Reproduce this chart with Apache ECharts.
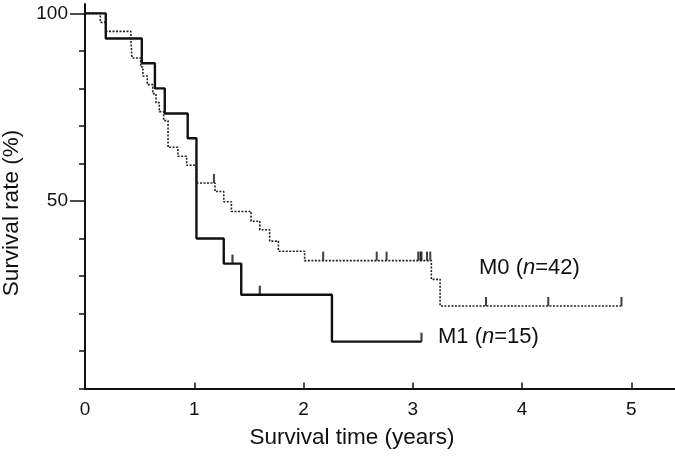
<!DOCTYPE html>
<html>
<head>
<meta charset="utf-8">
<script src="https://cdn.jsdelivr.net/npm/echarts@6/dist/echarts.min.js"></script>
<style>
  html, body { margin: 0; padding: 0; background: #fff; }
  #chart { width: 675px; height: 460px; }
</style>
</head>
<body>
<div id="chart"></div>
<script>
// ---- Data ----
// M0 (n=42): times (years) at which survival drops, and survival after the drop (%)
var m0Times = [0, 0.14, 0.19, 0.42, 0.43, 0.51, 0.53, 0.57, 0.62, 0.65, 0.68, 0.72, 0.76, 0.85, 0.93, 1.02, 1.19, 1.27, 1.34, 1.52, 1.60, 1.69, 1.77, 2.01, 3.17, 3.25, 4.91];
var m0Surv  = [100, 97.6, 95.2, 92.9, 88.1, 85.7, 83.3, 81.0, 78.6, 76.2, 73.8, 71.4, 64.3, 61.9, 59.5, 54.8, 52.5, 49.8, 47.2, 44.6, 42.3, 39.3, 36.6, 34.1, 29.1, 22.0, 22.0];
var m0CensorTimes = [1.18, 2.18, 2.67, 2.76, 3.05, 3.07, 3.08, 3.13, 3.16, 3.67, 4.24, 4.91];
var m0CensorSurv  = [54.8, 34.1, 34.1, 34.1, 34.1, 34.1, 34.1, 34.1, 34.1, 22.0, 22.0, 22.0];

// M1 (n=15)
var m1Times = [0, 0.19, 0.52, 0.64, 0.73, 0.94, 1.02, 1.27, 1.43, 2.26, 3.08];
var m1Surv  = [100, 93.3, 86.7, 80.0, 73.3, 66.7, 40.0, 33.3, 25.0, 12.5, 12.5];
var m1CensorTimes = [1.35, 1.60, 3.08];
var m1CensorSurv  = [33.3, 25.0, 12.5];

// Axis ticks / labels
var xTickLabels = [0, 1, 2, 3, 4, 5];
var xTicks = [1, 2, 3, 4, 5];
var yMajorTicks = [50, 100];

var xAxisTitle = 'Survival time (years)';
var yAxisTitle = 'Survival rate (%)';
var groupNames = ['M0', 'M1'];
var groupN = [42, 15];

function zip(a, b) { return a.map(function (v, i) { return [v, b[i]]; }); }

var FONT = '"Liberation Sans", Arial, Helvetica, sans-serif';
var chart = echarts.init(document.getElementById('chart'), null, { renderer: 'canvas' });

// y: 0% at 388.5px, 3.752 px per %; main grid goes to 102.5%, tick grid to 100%
var option = {
  animation: false,
  backgroundColor: '#ffffff',
  grid: [
    { left: 85, right: 0, top: 4, bottom: 71.5, containLabel: false },
    { left: 85, right: 0, top: 13.3, bottom: 71.5, containLabel: false }
  ],
  xAxis: [{
    gridIndex: 0, type: 'value', min: 0, max: 5.4,
    axisLine: { show: true, lineStyle: { color: '#111', width: 2 } },
    axisTick: { show: true, inside: true, length: 6, customValues: xTicks, lineStyle: { color: '#111', width: 1.5 } },
    axisLabel: { show: true, customValues: xTickLabels, margin: 12, fontSize: 19, color: '#111', fontFamily: FONT },
    splitLine: { show: false }
  }, {
    gridIndex: 1, type: 'value', min: 0, max: 5.4, show: false
  }],
  yAxis: [{
    gridIndex: 0, type: 'value', min: 0, max: 102.5, position: 'left',
    axisLine: { show: true, lineStyle: { color: '#111', width: 2 } },
    axisTick: { show: true, inside: false, length: 15, customValues: yMajorTicks, lineStyle: { color: '#111', width: 1.5 } },
    axisLabel: { show: true, customValues: yMajorTicks, margin: 17, fontSize: 19, color: '#111', fontFamily: FONT },
    splitLine: { show: false }
  }, {
    gridIndex: 1, type: 'value', min: 0, max: 100, interval: 10, position: 'left',
    axisLine: { show: true, lineStyle: { color: '#111', width: 2 } },
    axisTick: { show: true, inside: false, length: 6, lineStyle: { color: '#111', width: 1.5 } },
    axisLabel: { show: false },
    splitLine: { show: false }
  }],
  graphic: [
    { type: 'text', x: 352, y: 438, style: { text: xAxisTitle, font: '22.5px ' + FONT, fill: '#111', align: 'center', verticalAlign: 'middle' } },
    { type: 'text', x: 12, y: 213, rotation: Math.PI / 2, style: { text: yAxisTitle, font: '22.5px ' + FONT, fill: '#111', align: 'center', verticalAlign: 'middle' } },
    { type: 'text', x: 479, y: 268, style: { rich: { a: { font: '22px ' + FONT, fill: '#111' }, i: { font: 'italic 22px ' + FONT, fill: '#111' } }, text: '{a|' + groupNames[0] + ' (}{i|n}{a|=' + groupN[0] + ')}', verticalAlign: 'middle' } },
    { type: 'text', x: 438, y: 337, style: { rich: { a: { font: '22px ' + FONT, fill: '#111' }, i: { font: 'italic 22px ' + FONT, fill: '#111' } }, text: '{a|' + groupNames[1] + ' (}{i|n}{a|=' + groupN[1] + ')}', verticalAlign: 'middle' } }
  ],
  series: [
    {
      name: groupNames[0], type: 'line', step: 'end', showSymbol: false, z: 2,
      data: zip(m0Times, m0Surv),
      lineStyle: { color: '#222', width: 1.6, type: [2, 1.5] }
    },
    {
      name: groupNames[0] + ' censored', type: 'scatter', z: 3,
      data: zip(m0CensorTimes, m0CensorSurv),
      symbol: 'rect', symbolSize: [2, 9], symbolOffset: [0, -4.5],
      itemStyle: { color: '#111' }
    },
    {
      name: groupNames[1], type: 'line', step: 'end', showSymbol: false, z: 4,
      data: zip(m1Times, m1Surv),
      lineStyle: { color: '#111', width: 2.4, type: 'solid' }
    },
    {
      name: groupNames[1] + ' censored', type: 'scatter', z: 5,
      data: zip(m1CensorTimes, m1CensorSurv),
      symbol: 'rect', symbolSize: [2.2, 9], symbolOffset: [0, -4.5],
      itemStyle: { color: '#111' }
    }
  ]
};
chart.setOption(option);
</script>
</body>
</html>
